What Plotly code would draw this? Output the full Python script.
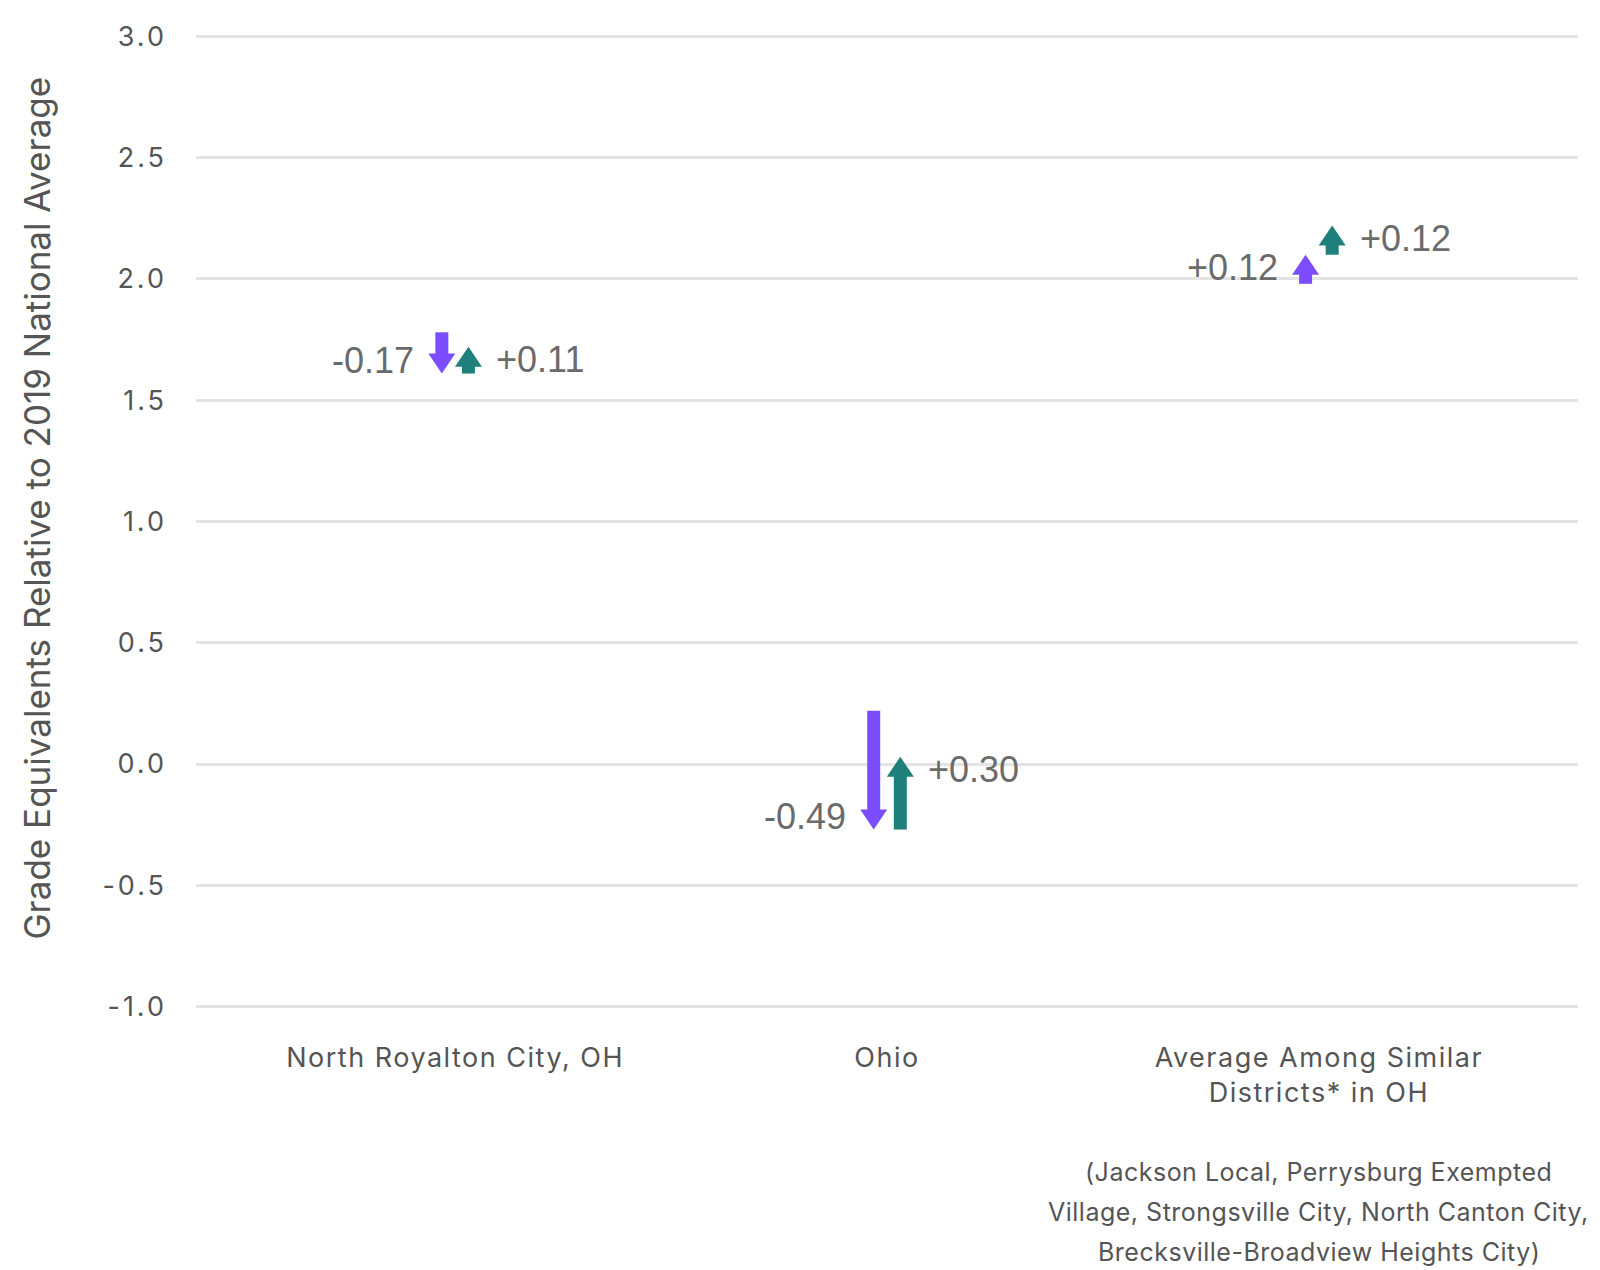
import plotly.graph_objects as go

# ---- data ----
categories = ["North Royalton City, OH", "Ohio", "Average Among Similar<br>Districts* in OH"]
start_values = [1.78, 0.22, 1.98]
change_first = [-0.17, -0.49, 0.12]
change_second = [0.11, 0.30, 0.12]
y_tick_values = [-1.0, -0.5, 0.0, 0.5, 1.0, 1.5, 2.0, 2.5, 3.0]
y_tick_labels = ["-1.0", "-0.5", "0.0", "0.5", "1.0", "1.5", "2.0", "2.5", "3.0"]
footnote_lines = [
    "(Jackson Local, Perrysburg Exempted",
    "Village, Strongsville City, North Canton City,",
    "Brecksville-Broadview Heights City)",
]
y_title = "Grade Equivalents Relative to 2019 National Average"

# ---- style ----
PURPLE = "#7C4DFF"
TEAL = "#1F807B"
LABEL_COLOR = "#6B6B6B"
AXIS_COLOR = "#555555"
GRID_COLOR = "#E4E4E4"
W, H = 1592, 1262
M = dict(l=188, r=22, t=16, b=261)
Y_RANGE = [-1.01, 3.01]
X_RANGE = [-0.6, 2.6]
SHAFT_HALF = 6.5
HEAD_HALF = 13.5
HEAD_LEN = 20
OFFSET = 13.3
ppu = (H - M["t"] - M["b"]) / (Y_RANGE[1] - Y_RANGE[0])
UI_FONT = "Inter"
NUM_FONT = "Liberation Sans, Arial"


def spaced(text, px):
    return f'<span style="letter-spacing:{px}px">{text}</span>'


fig = go.Figure()
shapes = []
annotations = []


def add_arrow(xi, y0, y1, off, color):
    d = 1 if y1 > y0 else -1
    shaft_end = y1 - d * (HEAD_LEN - 1) / ppu
    shapes.append(dict(type="rect", xref="x", yref="y", xsizemode="pixel", xanchor=xi,
                       x0=off - SHAFT_HALF, x1=off + SHAFT_HALF, y0=y0, y1=shaft_end,
                       fillcolor=color, line=dict(width=0), layer="above"))
    base = -d * HEAD_LEN
    path = f"M{off - HEAD_HALF},{base} L{off + HEAD_HALF},{base} L{off},0 Z"
    shapes.append(dict(type="path", xref="x", yref="y", xsizemode="pixel", ysizemode="pixel",
                       xanchor=xi, yanchor=y1, path=path,
                       fillcolor=color, line=dict(width=0), layer="above"))
    return d


for i, cat in enumerate(categories):
    s = start_values[i]
    mid = s + change_first[i]
    end = mid + change_second[i]
    d1 = add_arrow(i, s, mid, -OFFSET, PURPLE)
    d2 = add_arrow(i, mid, end, OFFSET, TEAL)
    annotations.append(dict(x=i, y=mid, xref="x", yref="y", text=f"{change_first[i]:+.2f}",
                            showarrow=False, xanchor="right", yanchor="middle",
                            xshift=-(OFFSET + HEAD_HALF + 12), yshift=-d1 * 13,
                            font=dict(family=NUM_FONT, size=36, color=LABEL_COLOR)))
    annotations.append(dict(x=i, y=end, xref="x", yref="y", text=f"{change_second[i]:+.2f}",
                            showarrow=False, xanchor="left", yanchor="middle",
                            xshift=(OFFSET + HEAD_HALF + 12), yshift=-d2 * 13,
                            font=dict(family=NUM_FONT, size=36, color=LABEL_COLOR)))

# invisible trace to establish axes
fig.add_trace(go.Scatter(x=list(range(len(categories))), y=start_values, mode="markers",
                         marker=dict(opacity=0), hoverinfo="skip", showlegend=False))

for k, line in enumerate(footnote_lines):
    annotations.append(dict(x=2, y=0, xref="x", yref="paper", text=spaced(line, 0.5),
                            showarrow=False, xanchor="center", yanchor="middle",
                            yshift=-(163 + 40 * k),
                            font=dict(family=UI_FONT, size=25, color=AXIS_COLOR)))

annotations.append(dict(x=0, y=0.5, xref="paper", yref="paper", text=y_title, textangle=-90,
                        showarrow=False, xanchor="center", yanchor="middle",
                        xshift=-160, yshift=13,
                        font=dict(family=UI_FONT, size=35, color=AXIS_COLOR)))

fig.update_layout(
    width=W, height=H, margin=M,
    plot_bgcolor="white", paper_bgcolor="white",
    showlegend=False,
    shapes=shapes, annotations=annotations,
    font=dict(family=UI_FONT, color=AXIS_COLOR),
    xaxis=dict(range=X_RANGE, tickvals=list(range(len(categories))),
               ticktext=[spaced(c, 1.5) for c in categories],
               showgrid=False, zeroline=False, showline=False, ticks="",
               tickfont=dict(family=UI_FONT, size=27, color=AXIS_COLOR),
               ticklabelstandoff=30),
    yaxis=dict(range=Y_RANGE, tickvals=y_tick_values,
               ticktext=[spaced(t, 3) for t in y_tick_labels],
               showgrid=True, gridcolor=GRID_COLOR, gridwidth=2.5,
               zeroline=False, showline=False, ticks="",
               tickfont=dict(family=UI_FONT, size=27, color=AXIS_COLOR),
               ticklabelstandoff=28),
)

fig.write_html("out.html")
